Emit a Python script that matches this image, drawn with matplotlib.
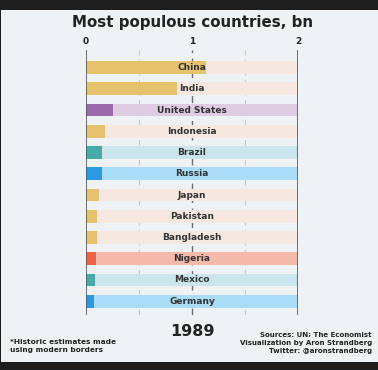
import matplotlib.pyplot as plt
from matplotlib.patches import Rectangle

# data (1989, billions)
countries = ['China', 'India', 'United States', 'Indonesia', 'Brazil', 'Russia',
             'Japan', 'Pakistan', 'Bangladesh', 'Nigeria', 'Mexico', 'Germany']
population = [1.13, 0.86, 0.25, 0.18, 0.15, 0.147, 0.123, 0.107, 0.105, 0.097, 0.085, 0.079]
bar_colors = ['#e5c26b', '#e5c26b', '#9a6aab', '#e5c26b', '#45aaa8', '#2a9be3',
              '#e5c26b', '#e5c26b', '#e5c26b', '#ef6446', '#45aaa8', '#2a9be3']
bg_colors = ['#f6e8e0', '#f6e8e0', '#dfcbe2', '#f6e8e0', '#cbe5ec', '#a9dcf6',
             '#f6e8e0', '#f6e8e0', '#f6e8e0', '#f5baa9', '#cbe5ec', '#a9dcf6']
xticks = [0, 1, 2]
year = '1989'

W, H = 378, 370
fig = plt.figure(figsize=(W / 100, H / 100), dpi=100)
fig.patch.set_facecolor('#1e1e1e')
fig.patches.append(Rectangle((1 / W, 1 - 362 / H), 377 / W, 352 / H,
                             transform=fig.transFigure, facecolor='#eef2f5',
                             edgecolor='none', zorder=-5))

ax = fig.add_axes([86 / W, 1 - 315 / H, 212 / W, 265 / H])
ax.set_zorder(2)
ax.set_facecolor('none')
ax.set_xlim(0, 2)
ax.set_ylim(11.65, -0.83)

y = list(range(len(countries)))
ax.barh(y, [2] * len(countries), height=0.6, color=bg_colors, zorder=2)
ax.barh(y, population, height=0.6, color=bar_colors, zorder=3)

for v in [0.5, 1.5]:
    ax.axvline(v, color='#c4c8cc', lw=0.8, ls=(0, (5, 4)), zorder=1)
ax.axvline(1, color='#6a6e72', lw=1.0, ls=(0, (5, 4)), zorder=1)
for v in [0, 2]:
    ax.axvline(v, color='#55595d', lw=1.2, zorder=4)

for i, c in enumerate(countries):
    ax.text(1, i, c, ha='center', va='center', fontsize=6.5, fontweight='bold',
            color='#333333', zorder=5)

ax.set_xticks(xticks)
ax.set_xticklabels([str(t) for t in xticks])
ax.xaxis.tick_top()
ax.tick_params(axis='x', length=0, pad=3, labelsize=6.5, labelcolor='#222222')
for lbl in ax.get_xticklabels():
    lbl.set_fontweight('bold')
ax.set_yticks([])
for s in ax.spines.values():
    s.set_visible(False)

fig.text(192 / W, 1 - 23 / H, 'Most populous countries, bn', ha='center', va='center',
         fontsize=10.8, fontweight='bold', color='#222222')
fig.text(192 / W, 1 - 331 / H, year, ha='center', va='center',
         fontsize=11.5, fontweight='bold', color='#222222')
fig.text(10 / W, 1 - 346 / H, '*Historic estimates made\nusing modern borders',
         ha='left', va='center', fontsize=5.3, fontweight='bold', color='#222222',
         linespacing=1.3)
fig.text(372 / W, 1 - 343 / H,
         'Sources: UN; The Economist\nVisualization by Aron Strandberg\nTwitter: @aronstrandberg',
         ha='right', va='center', fontsize=5, fontweight='bold', color='#222222',
         linespacing=1.35)

fig.savefig('out.png', dpi=100, facecolor=fig.get_facecolor())
